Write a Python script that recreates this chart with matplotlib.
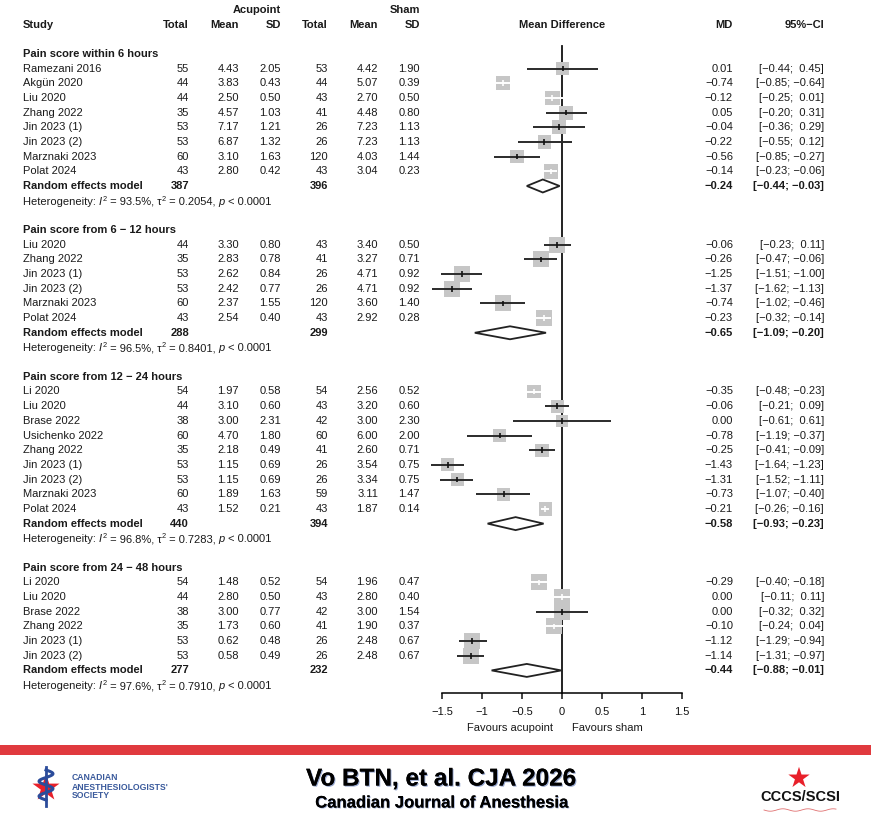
import numpy as np
import matplotlib
matplotlib.use("Agg")
import matplotlib.pyplot as plt
from matplotlib import patheffects as pe

plt.rcParams['font.family'] = ['Liberation Sans', 'DejaVu Sans']

# ---------------- data ----------------
# Subgroup 1: within 6 hours
title1 = "Pain score within 6 hours"
studies1 = ["Ramezani 2016", "Akgün 2020", "Liu 2020", "Zhang 2022", "Jin 2023 (1)", "Jin 2023 (2)", "Marznaki 2023", "Polat 2024"]
acu_n1 = [55, 44, 44, 35, 53, 53, 60, 43]
acu_mean1 = [4.43, 3.83, 2.50, 4.57, 7.17, 6.87, 3.10, 2.80]
acu_sd1 = [2.05, 0.43, 0.50, 1.03, 1.21, 1.32, 1.63, 0.42]
sham_n1 = [53, 44, 43, 41, 26, 26, 120, 43]
sham_mean1 = [4.42, 5.07, 2.70, 4.48, 7.23, 7.23, 4.03, 3.04]
sham_sd1 = [1.90, 0.39, 0.50, 0.80, 1.13, 1.13, 1.44, 0.23]
md1 = [0.01, -0.74, -0.12, 0.05, -0.04, -0.22, -0.56, -0.14]
lo1 = [-0.44, -0.85, -0.25, -0.20, -0.36, -0.55, -0.85, -0.23]
hi1 = [0.45, -0.64, 0.01, 0.31, 0.29, 0.12, -0.27, -0.06]
pooled1 = [-0.24, -0.44, -0.03]
totals1 = [387, 396]
het1 = ["93.5%", "0.2054", "< 0.0001"]
tau2_1 = 0.2054

# Subgroup 2: 6 - 12 hours
title2 = "Pain score from 6 \u2212 12 hours"
studies2 = ["Liu 2020", "Zhang 2022", "Jin 2023 (1)", "Jin 2023 (2)", "Marznaki 2023", "Polat 2024"]
acu_n2 = [44, 35, 53, 53, 60, 43]
acu_mean2 = [3.30, 2.83, 2.62, 2.42, 2.37, 2.54]
acu_sd2 = [0.80, 0.78, 0.84, 0.77, 1.55, 0.40]
sham_n2 = [43, 41, 26, 26, 120, 43]
sham_mean2 = [3.40, 3.27, 4.71, 4.71, 3.60, 2.92]
sham_sd2 = [0.50, 0.71, 0.92, 0.92, 1.40, 0.28]
md2 = [-0.06, -0.26, -1.25, -1.37, -0.74, -0.23]
lo2 = [-0.23, -0.47, -1.51, -1.62, -1.02, -0.32]
hi2 = [0.11, -0.06, -1.00, -1.13, -0.46, -0.14]
pooled2 = [-0.65, -1.09, -0.20]
totals2 = [288, 299]
het2 = ["96.5%", "0.8401", "< 0.0001"]
tau2_2 = 0.8401

# Subgroup 3: 12 - 24 hours
title3 = "Pain score from 12 \u2212 24 hours"
studies3 = ["Li 2020", "Liu 2020", "Brase 2022", "Usichenko 2022", "Zhang 2022", "Jin 2023 (1)", "Jin 2023 (2)", "Marznaki 2023", "Polat 2024"]
acu_n3 = [54, 44, 38, 60, 35, 53, 53, 60, 43]
acu_mean3 = [1.97, 3.10, 3.00, 4.70, 2.18, 1.15, 1.15, 1.89, 1.52]
acu_sd3 = [0.58, 0.60, 2.31, 1.80, 0.49, 0.69, 0.69, 1.63, 0.21]
sham_n3 = [54, 43, 42, 60, 41, 26, 26, 59, 43]
sham_mean3 = [2.56, 3.20, 3.00, 6.00, 2.60, 3.54, 3.34, 3.11, 1.87]
sham_sd3 = [0.52, 0.60, 2.30, 2.00, 0.71, 0.75, 0.75, 1.47, 0.14]
md3 = [-0.35, -0.06, 0.00, -0.78, -0.25, -1.43, -1.31, -0.73, -0.21]
lo3 = [-0.48, -0.21, -0.61, -1.19, -0.41, -1.64, -1.52, -1.07, -0.26]
hi3 = [-0.23, 0.09, 0.61, -0.37, -0.09, -1.23, -1.11, -0.40, -0.16]
pooled3 = [-0.58, -0.93, -0.23]
totals3 = [440, 394]
het3 = ["96.8%", "0.7283", "< 0.0001"]
tau2_3 = 0.7283

# Subgroup 4: 24 - 48 hours
title4 = "Pain score from 24 \u2212 48 hours"
studies4 = ["Li 2020", "Liu 2020", "Brase 2022", "Zhang 2022", "Jin 2023 (1)", "Jin 2023 (2)"]
acu_n4 = [54, 44, 38, 35, 53, 53]
acu_mean4 = [1.48, 2.80, 3.00, 1.73, 0.62, 0.58]
acu_sd4 = [0.52, 0.50, 0.77, 0.60, 0.48, 0.49]
sham_n4 = [54, 43, 42, 41, 26, 26]
sham_mean4 = [1.96, 2.80, 3.00, 1.90, 2.48, 2.48]
sham_sd4 = [0.47, 0.40, 1.54, 0.37, 0.67, 0.67]
md4 = [-0.29, 0.00, 0.00, -0.10, -1.12, -1.14]
lo4 = [-0.40, -0.11, -0.32, -0.24, -1.29, -1.31]
hi4 = [-0.18, 0.11, 0.32, 0.04, -0.94, -0.97]
pooled4 = [-0.44, -0.88, -0.01]
totals4 = [277, 232]
het4 = ["97.6%", "0.7910", "< 0.0001"]
tau2_4 = 0.7910

xticks = [-1.5, -1, -0.5, 0, 0.5, 1, 1.5]
xtick_labels = ["\u22121.5", "\u22121", "\u22120.5", "0", "0.5", "1", "1.5"]

groups = [
    (title1, studies1, acu_n1, acu_mean1, acu_sd1, sham_n1, sham_mean1, sham_sd1, md1, lo1, hi1, pooled1, totals1, het1, tau2_1),
    (title2, studies2, acu_n2, acu_mean2, acu_sd2, sham_n2, sham_mean2, sham_sd2, md2, lo2, hi2, pooled2, totals2, het2, tau2_2),
    (title3, studies3, acu_n3, acu_mean3, acu_sd3, sham_n3, sham_mean3, sham_sd3, md3, lo3, hi3, pooled3, totals3, het3, tau2_3),
    (title4, studies4, acu_n4, acu_mean4, acu_sd4, sham_n4, sham_mean4, sham_sd4, md4, lo4, hi4, pooled4, totals4, het4, tau2_4),
]

# ---------------- layout ----------------
W, H = 871, 832
fig = plt.figure(figsize=(W / 100, H / 100), dpi=100)
tax = fig.add_axes([0, 0, 1, 1])
tax.set_xlim(0, W); tax.set_ylim(H, 0); tax.axis('off')
renderer = fig.canvas.get_renderer()

X_LO, X_HI = 442, 682          # pixel positions of -1.5 and 1.5
PX_PER_UNIT = (X_HI - X_LO) / 3.0
fax = fig.add_axes([X_LO / W, 0, (X_HI - X_LO) / W, 1])
fax.set_xlim(-1.5, 1.5); fax.set_ylim(H, 0)
fax.patch.set_alpha(0)
for s in ['top', 'left', 'right']:
    fax.spines[s].set_visible(False)
AXIS_Y = 693
fax.spines['bottom'].set_position(('data', AXIS_Y))
fax.spines['bottom'].set_bounds(-1.5, 1.5)
fax.spines['bottom'].set_linewidth(1.1)
fax.set_yticks([])
fax.set_xticks(xticks)
fax.set_xticklabels(xtick_labels)
fax.tick_params(axis='x', length=4.5, width=1.1, pad=5.5, labelsize=8, colors='#111111')

FS = 8
TC = '#1a1a1a'
Y0, DY = 24.5, 14.68
def rowy(k):
    return Y0 + DY * k

C_STUDY = 23
C_AN, C_AM, C_AS = 189, 239, 281
C_SN, C_SM, C_SS = 328, 378, 420
C_MD, C_CI = 733, 824

def fnum(v):
    return f"{v:.2f}".replace('-', '\u2212')

def fci(lo, hi):
    h = fnum(hi)
    if hi >= 0:
        h = " " + h
    return f"[{fnum(lo)}; {h}]"

def txt(x, y, s, ha='right', bold=False, **kw):
    return tax.text(x, y, s, ha=ha, va='center', fontsize=FS, color=TC,
                    fontweight='bold' if bold else 'normal', **kw)

def het_text(x, y, het):
    # y is baseline in pixel coords
    pieces = [("Heterogeneity: ", 'normal', FS, 0), ("I", 'italic', FS, 0), ("2", 'normal', 5.3, 4.0),
              (" = " + het[0] + ", \u03c4", 'normal', FS, 0), ("2", 'normal', 5.3, 4.0),
              (" = " + het[1] + ", ", 'normal', FS, 0), ("p", 'italic', FS, 0),
              (" " + het[2], 'normal', FS, 0)]
    cx = x
    for s, style, fs, rise in pieces:
        t = tax.text(cx, y - rise, s, ha='left', va='baseline', fontsize=fs, fontstyle=style, color=TC)
        bb = t.get_window_extent(renderer)
        cx += bb.width + (0.6 if style == 'italic' else 0)

# headers
txt(C_AS, rowy(-1), "Acupoint", bold=True)
txt(C_SS, rowy(-1), "Sham", bold=True)
txt(C_STUDY, rowy(0), "Study", ha='left', bold=True)
for x, s in [(C_AN, "Total"), (C_AM, "Mean"), (C_AS, "SD"), (C_SN, "Total"), (C_SM, "Mean"), (C_SS, "SD"),
             (C_MD, "MD"), (C_CI, "95%\u2212CI")]:
    txt(x, rowy(0), s, bold=True)
txt(X_LO + 1.5 * PX_PER_UNIT, rowy(0), "Mean Difference", ha='center', bold=True)

BOX_C = '#c6c6c6'
LINE_C = '#2b2b2b'
k = 2
for (title, st, an, am, asd, sn, sm, ssd, md, lo, hi, pooled, totals, het, tau2) in groups:
    txt(C_STUDY, rowy(k), title, ha='left', bold=True)
    k += 1
    lo_a = np.array(lo); hi_a = np.array(hi)
    se = (hi_a - lo_a) / (2 * 1.96)
    w = 1.0 / (se ** 2 + tau2)
    pct = 100 * w / w.sum()
    for i in range(len(st)):
        y = rowy(k)
        txt(C_STUDY, y, st[i], ha='left')
        txt(C_AN, y, str(an[i])); txt(C_AM, y, f"{am[i]:.2f}"); txt(C_AS, y, f"{asd[i]:.2f}")
        txt(C_SN, y, str(sn[i])); txt(C_SM, y, f"{sm[i]:.2f}"); txt(C_SS, y, f"{ssd[i]:.2f}")
        txt(C_MD, y, fnum(md[i])); txt(C_CI, y, fci(lo[i], hi[i]))
        side_px = 3.92 * np.sqrt(pct[i])
        fax.scatter([md[i]], [y], marker='s', s=(side_px * 0.72) ** 2, color=BOX_C,
                    edgecolors='none', zorder=3, clip_on=False)
        inside = (hi[i] - lo[i]) * PX_PER_UNIT < 1.6 * side_px
        lc = 'white' if inside else LINE_C
        fax.plot([lo[i], hi[i]], [y, y], color=lc, lw=1.4, zorder=4, clip_on=False,
                 solid_capstyle='butt')
        fax.plot([md[i], md[i]], [y - 2.8, y + 2.8], color='white' if inside else '#111111',
                 lw=1.2, zorder=5, clip_on=False, solid_capstyle='butt')
        k += 1
    y = rowy(k)
    txt(C_STUDY, y, "Random effects model", ha='left', bold=True)
    txt(C_AN, y, str(totals[0]), bold=True)
    txt(C_SN, y, str(totals[1]), bold=True)
    txt(C_MD, y, fnum(pooled[0]), bold=True)
    txt(C_CI, y, fci(pooled[1], pooled[2]), bold=True)
    m, l, h = pooled
    fax.fill([l, m, h, m, l], [y, y - 6.5, y, y + 6.5, y], facecolor='white',
             edgecolor='#222222', lw=1.3, zorder=4, clip_on=False)
    k += 1
    het_text(C_STUDY, rowy(k) + 4, het)
    k += 2

# zero line
fax.plot([0, 0], [46, AXIS_Y], color='#111111', lw=1.3, zorder=2)

# favours labels
fax.text(-0.11, 728, "Favours acupoint", ha='right', va='center', fontsize=FS, color=TC)
fax.text(0.12, 728, "Favours sham", ha='left', va='center', fontsize=FS, color=TC)

# ---------------- footer ----------------
tax.add_patch(plt.Rectangle((0, 745), W, 10, color='#e03a3e', lw=0))
tax.text(441, 779, "Vo BTN, et al. CJA 2026", ha='center', va='center', fontsize=17.5,
         fontweight='bold', family=['Liberation Sans Narrow', 'Liberation Sans'], color='black',
         path_effects=[pe.withSimplePatchShadow(offset=(0.8, -0.8), shadow_rgbFace='#3050a0', alpha=0.5),
                       pe.Normal()])
tax.text(441, 803, "Canadian Journal of Anesthesia", ha='center', va='center', fontsize=12,
         fontweight='bold', family=['Liberation Sans Narrow', 'Liberation Sans'], color='black',
         path_effects=[pe.withSimplePatchShadow(offset=(0.6, -0.6), shadow_rgbFace='#3050a0', alpha=0.5),
                       pe.Normal()])

# left logo (approximation)
tax.scatter([46], [788], marker='*', s=420, color='#e8202a', edgecolors='none')
tax.plot([46, 46], [767, 806], color='#2b4c9b', lw=2)
tt = np.linspace(0, 1, 40)
tax.plot(46 + 7 * np.sin(tt * 4 * np.pi), 770 + 30 * tt, color='#2b4c9b', lw=2.2)
for yy, s in [(778, "CANADIAN"), (787, "ANESTHESIOLOGISTS'"), (796, "SOCIETY")]:
    tax.text(72, yy, s, ha='left', va='center', fontsize=6.2, fontweight='bold', color='#3a5a9c')

# right logo (approximation)
tax.scatter([799], [778], marker='*', s=260, color='#e8202a', edgecolors='none')
tax.text(800, 797, "CCCS/SCSI", ha='center', va='center', fontsize=10.5, fontweight='bold',
         family=['Liberation Sans Narrow', 'Liberation Sans'], color='#111111')
tax.plot(np.linspace(764, 836, 60), 810 + 1.2 * np.sin(np.linspace(0, 18, 60)), color='#e07070', lw=0.6)

fig.savefig("out.png", dpi=100)
